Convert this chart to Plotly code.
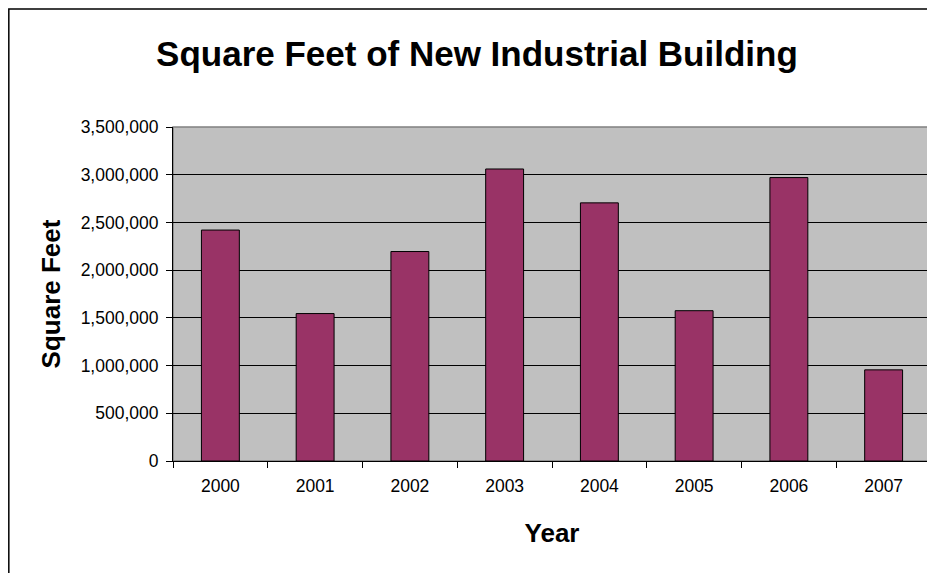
import plotly.graph_objects as go

# data
years = ["2000", "2001", "2002", "2003", "2004", "2005", "2006", "2007"]
square_feet = [2420000, 1545000, 2195000, 3060000, 2705000, 1575000, 2970000, 955000]

y_ticks = [0, 500000, 1000000, 1500000, 2000000, 2500000, 3000000, 3500000]
y_tick_labels = ["0", "500,000", "1,000,000", "1,500,000", "2,000,000",
                 "2,500,000", "3,000,000", "3,500,000"]

BAR_COLOR = "#993366"
FONT = "Liberation Sans, Arial, sans-serif"

fig = go.Figure()

fig.add_trace(go.Bar(
    x=years,
    y=square_feet,
    marker=dict(color=BAR_COLOR, line=dict(color="black", width=1)),
    width=0.4,
    hoverinfo="x+y",
))

# plot area frame (grey top/right) and outer chart border
fig.add_shape(type="rect", xref="paper", yref="paper", x0=0, y0=0, x1=1, y1=1,
              line=dict(color="#808080", width=1.5), layer="below")
fig.add_shape(type="rect", xref="paper", yref="paper",
              x0=-0.2166, y0=-0.6, x1=1.2, y1=1.3533,
              line=dict(color="black", width=1.5), layer="above")

fig.update_layout(
    width=935, height=573,
    margin=dict(l=165, r=12, t=119, b=120),
    paper_bgcolor="white",
    plot_bgcolor="#C0C0C0",
    font=dict(family=FONT, color="black", size=17),
    title=dict(
        text="<b>Square Feet of New Industrial Building</b>",
        font=dict(family=FONT, size=35, color="black"),
        x=0.401, xref="paper", xanchor="center",
        y=0.921, yanchor="middle",
    ),
    showlegend=False,
    bargap=0.6,
)

fig.update_xaxes(
    type="category",
    showline=True, linecolor="black", linewidth=1,
    ticks="outside", tickson="boundaries", ticklen=6, tickcolor="black",
    showgrid=False,
    ticklabelstandoff=9,
    tickfont=dict(family=FONT, size=17.5),
    title=dict(text="<b>Year</b>", font=dict(family=FONT, size=26), standoff=28),
)

fig.update_yaxes(
    range=[0, 3500000],
    tickvals=y_ticks, ticktext=y_tick_labels,
    showline=True, linecolor="black", linewidth=1,
    ticks="outside", ticklen=6, tickcolor="black",
    showgrid=True, gridcolor="black", gridwidth=1,
    zeroline=False,
    ticklabelstandoff=4,
    tickfont=dict(family=FONT, size=17.5),
    title=dict(text="<b>Square Feet</b>", font=dict(family=FONT, size=26), standoff=12),
)

fig.write_html("out.html")
